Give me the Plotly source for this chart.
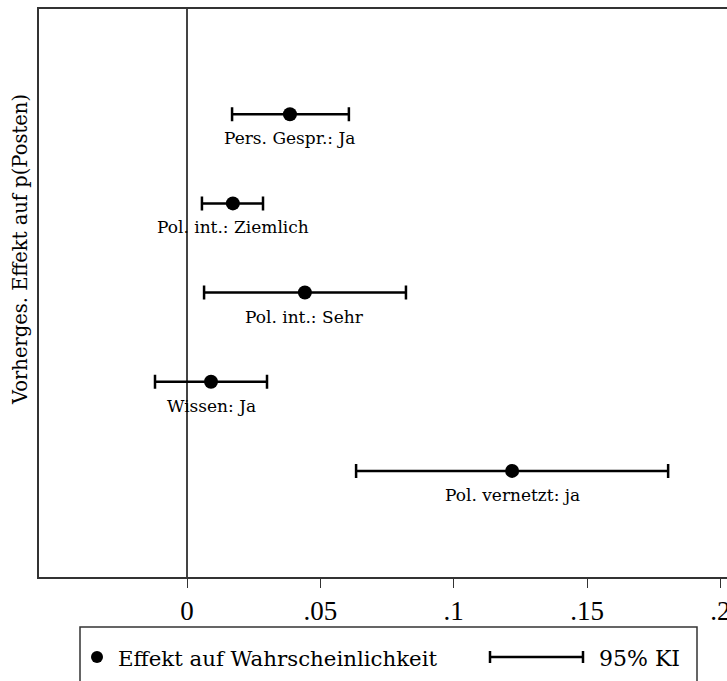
import plotly.graph_objects as go

labels = ["Pers. Gespr.: Ja", "Pol. int.: Ziemlich", "Pol. int.: Sehr", "Wissen: Ja", "Pol. vernetzt: ja"]
rows = [5, 4, 3, 2, 1]
estimates = [0.0386, 0.0172, 0.0442, 0.0090, 0.1219]
ci_low = [0.0169, 0.0056, 0.0064, -0.0120, 0.0634]
ci_high = [0.0607, 0.0285, 0.0821, 0.0300, 0.1804]
tick_vals = [0, 0.05, 0.1, 0.15, 0.2]
tick_text = ["0", ".05", ".1", ".15", ".2"]

FONT = "DejaVu Serif"
TFONT = "Liberation Serif"
W, H = 727, 681
ML, MT, MB, MR = 39, 9, 104, 0
PW = W - ML - MR
PH = H - MT - MB

def px(xp):
    return (xp - ML) / PW

def py(yp):
    return (H - MB - yp) / PH

fig = go.Figure()
fig.add_trace(go.Scatter(
    x=estimates, y=rows, mode="markers",
    marker=dict(color="black", size=14),
    error_x=dict(type="data", symmetric=False,
                 array=[h - e for h, e in zip(ci_high, estimates)],
                 arrayminus=[e - l for e, l in zip(estimates, ci_low)],
                 color="black", thickness=2.5, width=7),
    showlegend=False, cliponaxis=False,
))

for lab, e, r in zip(labels, estimates, rows):
    fig.add_annotation(x=e, y=r, xref="x", yref="y", text=lab, showarrow=False,
                       xanchor="center", yanchor="middle", yshift=-24,
                       font=dict(family=FONT, size=17, color="black"))

# y-axis title
fig.add_annotation(x=px(20), y=py(250), xref="paper", yref="paper",
                   xanchor="center", yanchor="middle",
                   text="Vorherges. Effekt auf p(Posten)", textangle=-90,
                   showarrow=False, font=dict(family=FONT, size=19.5, color="black"))

# legend box
shapes = [
    dict(type="rect", xref="paper", yref="paper", x0=px(80), x1=px(697), y0=py(700), y1=py(627),
         line=dict(color="#333333", width=1.5), fillcolor="rgba(0,0,0,0)"),
    dict(type="line", xref="paper", yref="paper", x0=px(490), x1=px(583), y0=py(657), y1=py(657),
         line=dict(color="black", width=2.5)),
    dict(type="line", xref="paper", yref="paper", x0=px(490), x1=px(490), y0=py(651), y1=py(663),
         line=dict(color="black", width=2.5)),
    dict(type="line", xref="paper", yref="paper", x0=px(583), x1=px(583), y0=py(651), y1=py(663),
         line=dict(color="black", width=2.5)),
    dict(type="circle", xref="paper", yref="paper", x0=px(91), x1=px(103), y0=py(651), y1=py(663),
         line=dict(color="black", width=0), fillcolor="black"),
]
fig.add_annotation(x=px(116), y=py(658), xref="paper", yref="paper",
                   xanchor="left", yanchor="middle",
                   text="Effekt auf Wahrscheinlichkeit", showarrow=False,
                   font=dict(family=FONT, size=21.3, color="black"))
fig.add_annotation(x=px(597), y=py(658), xref="paper", yref="paper",
                   xanchor="left", yanchor="middle",
                   text="95% KI", showarrow=False,
                   font=dict(family=FONT, size=22, color="black"))

x0 = (ML - 187) / 2667.0
x1 = (W - MR - 187) / 2667.0
fig.update_layout(
    width=W, height=H, margin=dict(l=ML, r=MR, t=MT, b=MB, autoexpand=False),
    paper_bgcolor="white", plot_bgcolor="white",
    shapes=shapes,
    xaxis=dict(range=[x0, x1], tickvals=tick_vals, ticktext=tick_text,
               automargin=False,
               ticks="outside", ticklen=9, tickwidth=1.2, tickcolor="#333333",
               ticklabeloverflow="allow",
               showline=True, mirror=True, linecolor="#333333", linewidth=1.5,
               showgrid=False, zeroline=True, zerolinecolor="#444444", zerolinewidth=2,
               tickfont=dict(family=TFONT, size=27, color="black")),
    yaxis=dict(range=[-0.19, 6.18], showticklabels=False, ticks="",
               automargin=False,
               showline=True, mirror=False, linecolor="#333333", linewidth=1.5,
               showgrid=False, zeroline=False),
)

fig.write_html("out.html", config={"displayModeBar": False},
               post_script="document.body.style.margin='0';")
